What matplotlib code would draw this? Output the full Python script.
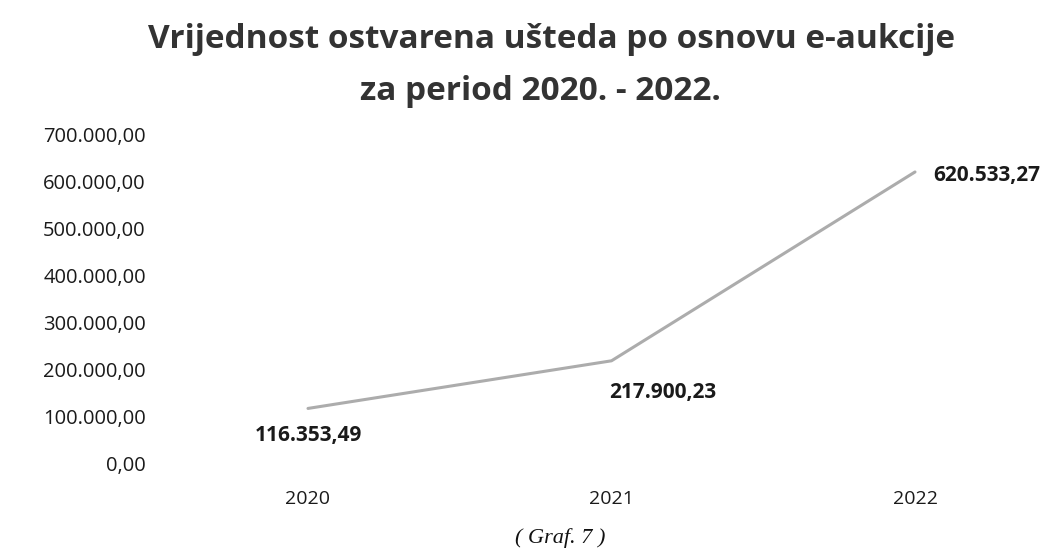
import matplotlib.pyplot as plt

years = ["2020", "2021", "2022"]
savings = [116353.49, 217900.23, 620533.27]
y_ticks = [0, 100000, 200000, 300000, 400000, 500000, 600000, 700000]


def eu_fmt(v):
    s = f"{v:,.2f}"
    return s.replace(",", "X").replace(".", ",").replace("X", ".")


W, H = 1049, 558
fig = plt.figure(figsize=(W / 100, H / 100), dpi=100)
fig.patch.set_facecolor("white")

# axes placed in pixel terms
ax_l, ax_r, ax_t, ax_b = 150, 1040, 120, 480
ax = fig.add_axes([ax_l / W, 1 - ax_b / H, (ax_r - ax_l) / W, (ax_b - ax_t) / H])

px_per_cat = 303.5
x0_px = 308
ax.set_xlim((ax_l - x0_px) / px_per_cat, (ax_r - x0_px) / px_per_cat)
px_per_unit = 46.9 / 100000
zero_px = 463
ax.set_ylim((zero_px - ax_b) / px_per_unit, (zero_px - ax_t) / px_per_unit)

xs = list(range(len(years)))
ax.plot(xs, savings, color="#acacac", linewidth=2.2, solid_capstyle="round")

font = "Open Sans"
ax.set_yticks(y_ticks)
ax.set_yticklabels([eu_fmt(v) for v in y_ticks], fontsize=14.5, family=font, color="#1a1a1a")
ax.set_xticks(xs)
ax.set_xticklabels(years, fontsize=14, family=font, color="#1a1a1a")
ax.tick_params(axis="y", length=0, pad=3)
ax.tick_params(axis="x", length=0, pad=7)
for s in ax.spines.values():
    s.set_visible(False)

# data labels: (dx in categories, dy in value units, alignment)
label_pos = [(0.0, -58000, "center"), (0.17, -67000, "center"), (0.06, -8000, "left")]
for x, v, (dx, dy, ha) in zip(xs, savings, label_pos):
    ax.text(x + dx, v + dy, eu_fmt(v), ha=ha, va="center",
            fontsize=15, fontweight="bold", family=font, color="#1a1a1a")

fig.text(551 / W, 1 - 40 / H, "Vrijednost ostvarena ušteda po osnovu e-aukcije",
         ha="center", va="center", fontsize=24, fontweight="bold", family=font, color="#333333")
fig.text(540 / W, 1 - 91 / H, "za period 2020. - 2022.",
         ha="center", va="center", fontsize=24, fontweight="bold", family=font, color="#333333")

fig.text(560 / W, 1 - 538 / H, "( Graf. 7 )", ha="center", va="center",
         fontsize=16, style="italic", family="Liberation Serif", color="#111111")

fig.savefig("out.png", dpi=100, facecolor="white")
